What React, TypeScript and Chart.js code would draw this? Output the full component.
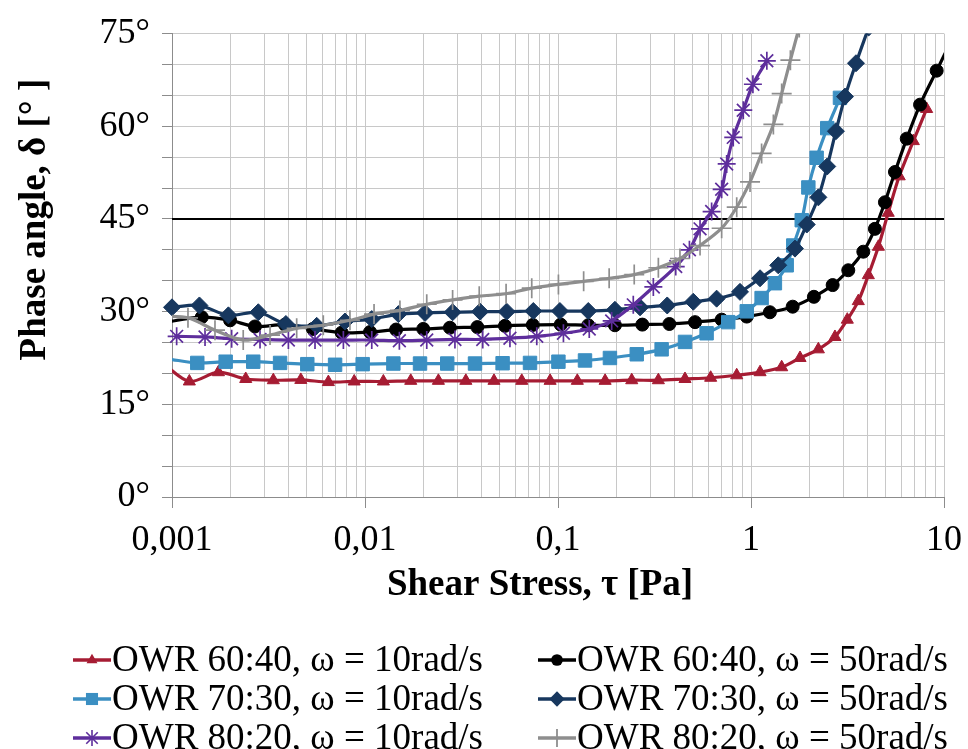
import React, { useEffect, useRef } from 'react';
import { Chart, registerables } from 'chart.js';

Chart.register(...registerables);

const FONT = "'Liberation Serif', 'Times New Roman', Times, serif";

// ---------- data (x = shear stress τ [Pa], y = phase angle δ [°]) ----------
const owr6040w10X = [0.000885, 0.00123, 0.00174, 0.00241, 0.00335, 0.00465, 0.00646, 0.00879, 0.01245, 0.01726, 0.024, 0.0333, 0.0466, 0.0649, 0.091, 0.1259, 0.1754, 0.241, 0.3311, 0.455, 0.618, 0.8433, 1.114, 1.442, 1.795, 2.234, 2.723, 3.155, 3.597, 4.055, 4.571, 5.14, 5.861, 6.934, 8.128];
const owr6040w10Y = [21.8, 18.7, 20.2, 19.1, 18.9, 18.95, 18.6, 18.7, 18.7, 18.8, 18.8, 18.8, 18.8, 18.8, 18.8, 18.8, 18.8, 18.9, 18.9, 19.1, 19.3, 19.7, 20.2, 21.0, 22.5, 23.9, 25.9, 28.7, 31.7, 35.9, 40.5, 46.0, 51.9, 57.6, 62.8];

const owr6040w50X = [0.00089, 0.001426, 0.002, 0.00269, 0.00385, 0.00537, 0.00757, 0.01062, 0.01449, 0.02004, 0.02754, 0.0382, 0.0531, 0.074, 0.1033, 0.1435, 0.1972, 0.2735, 0.3776, 0.5129, 0.7047, 0.9506, 1.253, 1.644, 2.118, 2.649, 3.192, 3.819, 4.385, 4.943, 5.572, 6.412, 7.516, 9.162, 10.96];
const owr6040w50Y = [28.2, 29.1, 28.6, 27.6, 27.9, 27.2, 26.6, 26.7, 27.1, 27.2, 27.4, 27.5, 27.7, 27.85, 27.9, 27.8, 27.8, 27.9, 28.0, 28.3, 28.7, 29.2, 29.9, 30.8, 32.4, 34.3, 36.7, 39.7, 43.4, 47.7, 52.6, 58.0, 63.5, 69.0, 74.0];

const owr7030w10X = [0.000973, 0.001352, 0.001897, 0.002636, 0.003631, 0.005023, 0.006998, 0.009727, 0.01403, 0.01928, 0.02667, 0.03715, 0.05164, 0.07161, 0.1005, 0.138, 0.1858, 0.2559, 0.3443, 0.455, 0.5888, 0.7621, 0.9506, 1.135, 1.33, 1.531, 1.656, 1.832, 1.982, 2.188, 2.483, 2.891];
const owr7030w10Y = [22.3, 21.7, 21.9, 21.9, 21.7, 21.5, 21.4, 21.5, 21.6, 21.6, 21.6, 21.6, 21.65, 21.7, 21.9, 22.1, 22.5, 23.1, 23.9, 25.1, 26.5, 28.3, 30.05, 32.2, 34.6, 37.5, 40.7, 44.8, 50.1, 54.9, 59.7, 64.6];

const owr7030w50X = [0.001, 0.001387, 0.00196, 0.0028, 0.00389, 0.00562, 0.00787, 0.01084, 0.0149, 0.02046, 0.02844, 0.03945, 0.0542, 0.0745, 0.1023, 0.1435, 0.1972, 0.2661, 0.3681, 0.5023, 0.6637, 0.877, 1.114, 1.384, 1.69, 1.945, 2.234, 2.483, 2.754, 3.069, 3.499, 4.074];
const owr7030w50Y = [30.7, 31.0, 29.4, 29.9, 28.0, 27.7, 28.4, 28.8, 29.6, 29.8, 29.9, 30.0, 30.0, 30.1, 30.1, 30.1, 30.3, 30.7, 31.0, 31.6, 32.1, 33.2, 35.4, 37.5, 40.2, 44.1, 48.5, 53.5, 59.2, 64.8, 70.2, 76.0];

const owr8020w10X = [0.001057, 0.001483, 0.002037, 0.002858, 0.004009, 0.005508, 0.007727, 0.01084, 0.01507, 0.02089, 0.02924, 0.04074, 0.05636, 0.07762, 0.1067, 0.1452, 0.1897, 0.2455, 0.3119, 0.4074, 0.4797, 0.5445, 0.6252, 0.7047, 0.7482, 0.8091, 0.912, 1.023, 1.208];
const owr8020w10Y = [26.0, 25.9, 25.6, 25.5, 25.4, 25.4, 25.4, 25.4, 25.3, 25.4, 25.5, 25.5, 25.7, 26.0, 26.5, 27.2, 28.5, 31.1, 34.0, 37.3, 40.0, 43.4, 46.2, 49.8, 53.9, 58.2, 62.6, 66.8, 70.6];

const owr8020w50X = [0.000891, 0.00121, 0.00167, 0.002339, 0.003221, 0.004426, 0.006081, 0.008356, 0.01114, 0.01517, 0.02089, 0.02844, 0.03908, 0.05383, 0.07311, 0.1005, 0.1358, 0.1841, 0.2483, 0.3311, 0.4285, 0.5445, 0.7047, 0.8433, 0.9886, 1.135, 1.306, 1.442, 1.6, 1.778];
const owr8020w50Y = [29.3, 29.0, 27.0, 25.4, 26.2, 27.3, 27.8, 28.6, 29.6, 30.2, 31.2, 31.9, 32.5, 32.9, 33.8, 34.4, 34.9, 35.4, 36.0, 37.1, 38.6, 40.7, 43.5, 46.9, 51.0, 55.6, 60.3, 65.3, 70.7, 76.0];

// reference line at δ = 45°
const refLineX = [0.001, 10];
const refLineY = [45, 45];

const seriesLabels = [
  'OWR 60:40, ω = 10rad/s',
  'OWR 60:40, ω = 50rad/s',
  'OWR 70:30, ω = 10rad/s',
  'OWR 70:30, ω = 50rad/s',
  'OWR 80:20, ω = 10rad/s',
  'OWR 80:20, ω = 50rad/s',
];
const seriesX = [owr6040w10X, owr6040w50X, owr7030w10X, owr7030w50X, owr8020w10X, owr8020w50X];
const seriesY = [owr6040w10Y, owr6040w50Y, owr7030w10Y, owr7030w50Y, owr8020w10Y, owr8020w50Y];

// axis ticks
const xMin = 0.001;
const xMax = 10;
const xDecades = [0.001, 0.01, 0.1, 1];
const xMantissas = [1, 2, 3, 4, 5, 6, 7, 8, 9];
const xLabelValues = [0.001, 0.01, 0.1, 1, 10];
const xLabelTexts = ['0,001', '0,01', '0,1', '1', '10'];
const yMin = 0;
const yMax = 75;
const yGridStep = 5;
const yLabelStep = 15;

const yTitle = 'Phase angle, δ [° ]';
const xTitle = 'Shear Stress, τ [Pa]';

// ---------- styles ----------
const seriesColors = ['#A61C33', '#000000', '#3B8FC2', '#17375E', '#5E2E9C', '#8E8E8E'];
const seriesMarkers = ['triangle', 'circle', 'rect', 'rectRot', 'star', 'cross'];
const seriesMarkerR = [7, 6.5, 9.5, 8.5, 9, 10];
const seriesDrawOrder = [6, 5, 4, 3, 2, 1];

function isDecade(v: number) {
  return xLabelValues.findIndex((t) => Math.abs(Math.log10(v) - Math.log10(t)) < 1e-6);
}

function drawMarker(ctx: CanvasRenderingContext2D, style: string, x: number, y: number, r: number, color: string) {
  ctx.save();
  ctx.fillStyle = color;
  ctx.strokeStyle = color;
  ctx.beginPath();
  if (style === 'circle') {
    ctx.arc(x, y, r, 0, Math.PI * 2);
    ctx.fill();
  } else if (style === 'triangle') {
    for (let k = 0; k < 3; k++) {
      const a = -Math.PI / 2 + (k * 2 * Math.PI) / 3;
      const px = x + Math.cos(a) * r;
      const py = y + Math.sin(a) * r;
      if (k === 0) ctx.moveTo(px, py);
      else ctx.lineTo(px, py);
    }
    ctx.closePath();
    ctx.fill();
  } else if (style === 'rect') {
    const s = r * Math.SQRT1_2;
    ctx.rect(x - s, y - s, 2 * s, 2 * s);
    ctx.fill();
  } else if (style === 'rectRot') {
    ctx.moveTo(x, y - r);
    ctx.lineTo(x + r, y);
    ctx.lineTo(x, y + r);
    ctx.lineTo(x - r, y);
    ctx.closePath();
    ctx.fill();
  } else if (style === 'star') {
    ctx.lineWidth = 1.6;
    for (let k = 0; k < 4; k++) {
      const a = (k * Math.PI) / 4;
      ctx.moveTo(x - Math.cos(a) * r, y - Math.sin(a) * r);
      ctx.lineTo(x + Math.cos(a) * r, y + Math.sin(a) * r);
    }
    ctx.stroke();
  } else if (style === 'cross') {
    ctx.lineWidth = 1.8;
    ctx.moveTo(x, y - r);
    ctx.lineTo(x, y + r);
    ctx.moveTo(x - r, y);
    ctx.lineTo(x + r, y);
    ctx.stroke();
  }
  ctx.restore();
}

const overlayPlugin = {
  id: 'overlay',
  afterDraw(chart: any) {
    const ctx: CanvasRenderingContext2D = chart.ctx;
    const area = chart.chartArea;
    ctx.save();
    ctx.fillStyle = '#000';
    ctx.textBaseline = 'middle';

    // axis titles
    ctx.font = `bold 37px ${FONT}`;
    ctx.textAlign = 'center';
    ctx.save();
    ctx.translate(area.left - 137, area.top + 186);
    ctx.rotate(-Math.PI / 2);
    ctx.fillText(yTitle, 0, 0);
    ctx.restore();
    ctx.fillText(xTitle, area.left + 368, area.bottom + 88);

    // legend (2 columns, 3 rows)
    ctx.font = `37px ${FONT}`;
    ctx.textAlign = 'left';
    const colX = [73, 538];
    const rowY = [660, 699, 738];
    const lineLen = 38;
    seriesLabels.forEach((label, i) => {
      const cx = colX[i % 2];
      const cy = rowY[Math.floor(i / 2)];
      ctx.save();
      ctx.strokeStyle = seriesColors[i];
      ctx.lineWidth = 3.5;
      ctx.beginPath();
      ctx.moveTo(cx, cy);
      ctx.lineTo(cx + lineLen, cy);
      ctx.stroke();
      ctx.restore();
      drawMarker(ctx, seriesMarkers[i], cx + lineLen / 2, cy, seriesMarkerR[i] * 0.9, seriesColors[i]);
      ctx.fillStyle = '#000';
      ctx.fillText(label, cx + lineLen + 1, cy + 1);
    });
    ctx.restore();
  },
};

export default function App() {
  const canvasRef = useRef<HTMLCanvasElement | null>(null);

  useEffect(() => {
    const canvas = canvasRef.current;
    if (!canvas) return;

    const datasets: any[] = seriesLabels.map((label, i) => ({
      label,
      data: seriesX[i].map((x, j) => ({ x, y: seriesY[i][j] })),
      borderColor: seriesColors[i],
      backgroundColor: seriesColors[i],
      borderWidth: 3.2,
      pointStyle: seriesMarkers[i],
      pointRadius: (c: any) => (c.raw && c.raw.x < xMin ? 0 : seriesMarkerR[i]),
      pointBackgroundColor: seriesColors[i],
      pointBorderColor: seriesColors[i],
      pointBorderWidth: seriesMarkers[i] === 'star' || seriesMarkers[i] === 'cross' ? 1.7 : 1,
      tension: 0.3,
      order: seriesDrawOrder[i],
      clip: { left: i === 3 || i === 4 ? 12 : 0, top: 0, right: 0, bottom: 0 },
    }));
    datasets.push({
      label: '45°',
      data: refLineX.map((x, j) => ({ x, y: refLineY[j] })),
      borderColor: '#000000',
      borderWidth: 2,
      pointRadius: 0,
      tension: 0,
      order: 10,
    });

    const xGrid: number[] = [];
    xDecades.forEach((d) => xMantissas.forEach((m) => xGrid.push(Number((d * m).toPrecision(3)))));
    xGrid.push(xMax);

    const chart = new Chart(canvas, {
      type: 'line',
      data: { datasets },
      plugins: [overlayPlugin],
      options: {
        animation: false,
        responsive: true,
        maintainAspectRatio: false,
        events: [],
        layout: { padding: { top: 30, right: 24, left: 0, bottom: 0 } },
        plugins: { legend: { display: false }, tooltip: { enabled: false } },
        scales: {
          x: {
            type: 'logarithmic',
            min: xMin,
            max: xMax,
            afterBuildTicks: (scale: any) => {
              scale.ticks = xGrid.map((v) => ({ value: v }));
            },
            afterFit: (scale: any) => {
              scale.height = 252;
              scale.paddingRight = 20;
              scale.paddingLeft = 20;
            },
            grid: {
              color: '#C8C8C8',
              lineWidth: 1,
              tickLength: 11,
              tickColor: (c: any) => (c.tick && isDecade(c.tick.value) >= 0 ? '#8C8C8C' : 'rgba(0,0,0,0)'),
            },
            border: { color: '#8C8C8C', width: 1 },
            ticks: {
              autoSkip: false,
              maxRotation: 0,
              minRotation: 0,
              padding: 11,
              color: '#000',
              font: { family: FONT, size: 36 },
              callback: (v: any) => {
                const idx = isDecade(Number(v));
                return idx >= 0 ? xLabelTexts[idx] : '';
              },
            },
          },
          y: {
            type: 'linear',
            min: yMin,
            max: yMax,
            afterFit: (scale: any) => {
              scale.width = 172;
            },
            grid: { color: '#C8C8C8', lineWidth: 1, tickLength: 10, tickColor: '#8C8C8C' },
            border: { color: '#8C8C8C', width: 1 },
            ticks: {
              stepSize: yGridStep,
              autoSkip: false,
              padding: 12,
              color: '#000',
              font: { family: FONT, size: 36 },
              callback: (v: any) => (Number(v) % yLabelStep === 0 ? `${v}°` : ''),
            },
          },
        },
      },
    });

    return () => chart.destroy();
  }, []);

  return (
    <div style={{ position: 'fixed', left: 0, top: 0, width: 968, height: 749, background: '#fff' }}>
      <canvas ref={canvasRef} />
    </div>
  );
}
